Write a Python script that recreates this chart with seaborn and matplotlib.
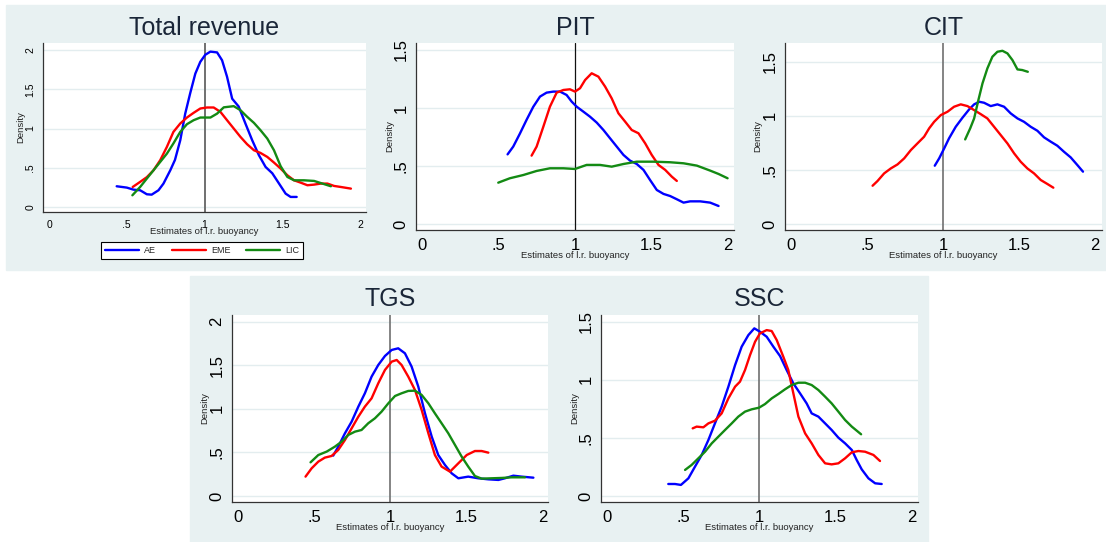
import matplotlib.pyplot as plt
import matplotlib.patches as mpatches
from matplotlib.ticker import FuncFormatter
import seaborn as sns
import pandas as pd

sns.set_style("white")
plt.rcParams['font.family'] = ['Liberation Sans', 'DejaVu Sans']

groups = ['AE', 'EME', 'LIC']
palette = {'AE': '#0000ff', 'EME': '#ff0000', 'LIC': '#138a13'}

# --- Total revenue ---
tr_ae_x = [0.435, 0.5, 0.543, 0.586, 0.629, 0.66, 0.704, 0.736, 0.78, 0.81, 0.844, 0.876, 0.908, 0.941, 0.973,
           1.005, 1.038, 1.081, 1.113, 1.145, 1.178, 1.22, 1.264, 1.307, 1.35, 1.393, 1.436, 1.479, 1.522, 1.554, 1.593]
tr_ae_y = [0.264, 0.247, 0.221, 0.213, 0.162, 0.157, 0.213, 0.298, 0.468, 0.6, 0.85, 1.19, 1.45, 1.70, 1.85,
           1.94, 1.98, 1.97, 1.87, 1.66, 1.38, 1.28, 1.06, 0.85, 0.66, 0.51, 0.43, 0.30, 0.17, 0.128, 0.128]
tr_eme_x = [0.538, 0.586, 0.629, 0.672, 0.715, 0.758, 0.80, 0.844, 0.887, 0.93, 0.973, 1.016, 1.059, 1.102, 1.145,
            1.188, 1.231, 1.274, 1.318, 1.36, 1.404, 1.447, 1.49, 1.533, 1.576, 1.619, 1.662, 1.705, 1.748, 1.791,
            1.834, 1.877, 1.942]
tr_eme_y = [0.255, 0.32, 0.38, 0.468, 0.596, 0.766, 0.957, 1.064, 1.14, 1.2, 1.255, 1.268, 1.268, 1.213, 1.106,
            1.0, 0.894, 0.8, 0.723, 0.689, 0.638, 0.566, 0.489, 0.404, 0.34, 0.31, 0.277, 0.285, 0.298, 0.298,
            0.268, 0.255, 0.234]
tr_lic_x = [0.536, 0.586, 0.629, 0.672, 0.715, 0.758, 0.80, 0.844, 0.887, 0.93, 0.973, 1.038, 1.081, 1.124, 1.188,
            1.231, 1.274, 1.318, 1.36, 1.404, 1.447, 1.49, 1.533, 1.576, 1.64, 1.705, 1.759, 1.813]
tr_lic_y = [0.149, 0.255, 0.362, 0.468, 0.574, 0.68, 0.81, 0.957, 1.055, 1.106, 1.14, 1.14, 1.19, 1.27, 1.285,
            1.234, 1.15, 1.072, 0.979, 0.872, 0.723, 0.519, 0.383, 0.34, 0.34, 0.332, 0.298, 0.264]

# --- PIT ---
pit_ae_x = [0.559, 0.596, 0.64, 0.683, 0.727, 0.771, 0.814, 0.858, 0.902, 0.945, 0.978, 1.011, 1.055, 1.098, 1.142,
            1.186, 1.229, 1.273, 1.317, 1.36, 1.404, 1.448, 1.491, 1.535, 1.579, 1.622, 1.666, 1.71, 1.753, 1.819,
            1.884, 1.939]
pit_ae_y = [0.60, 0.667, 0.78, 0.897, 1.01, 1.098, 1.132, 1.141, 1.141, 1.112, 1.055, 1.011, 0.968, 0.925, 0.874,
            0.81, 0.739, 0.667, 0.595, 0.546, 0.517, 0.466, 0.379, 0.293, 0.259, 0.241, 0.213, 0.184, 0.195, 0.195,
            0.184, 0.155]
pit_eme_x = [0.716, 0.749, 0.793, 0.836, 0.88, 0.924, 0.967, 1.0, 1.033, 1.066, 1.109, 1.153, 1.197, 1.24, 1.284,
             1.328, 1.371, 1.415, 1.459, 1.502, 1.546, 1.59, 1.633, 1.666]
pit_eme_y = [0.589, 0.667, 0.839, 1.011, 1.132, 1.155, 1.161, 1.141, 1.17, 1.241, 1.299, 1.27, 1.184, 1.083, 0.954,
             0.882, 0.81, 0.782, 0.695, 0.595, 0.509, 0.466, 0.408, 0.371]
pit_lic_x = [0.498, 0.574, 0.662, 0.749, 0.836, 0.924, 1.0, 1.076, 1.164, 1.24, 1.317, 1.404, 1.513, 1.622, 1.71,
             1.797, 1.884, 1.939, 1.998]
pit_lic_y = [0.356, 0.394, 0.422, 0.457, 0.48, 0.48, 0.474, 0.509, 0.509, 0.494, 0.517, 0.537, 0.537, 0.532, 0.523,
             0.503, 0.46, 0.431, 0.394]

# --- CIT ---
cit_ae_x = [0.946, 0.975, 1.008, 1.04, 1.084, 1.128, 1.172, 1.205, 1.238, 1.27, 1.314, 1.358, 1.402, 1.446, 1.49,
            1.533, 1.577, 1.621, 1.665, 1.709, 1.752, 1.796, 1.84, 1.884, 1.921]
cit_ae_y = [0.539, 0.607, 0.699, 0.792, 0.899, 0.982, 1.059, 1.106, 1.13, 1.121, 1.09, 1.106, 1.084, 1.022, 0.976,
            0.945, 0.899, 0.862, 0.801, 0.761, 0.724, 0.668, 0.616, 0.545, 0.484]
cit_eme_x = [0.537, 0.569, 0.613, 0.657, 0.701, 0.745, 0.789, 0.832, 0.876, 0.909, 0.942, 0.986, 1.03, 1.073, 1.117,
             1.161, 1.205, 1.248, 1.292, 1.336, 1.38, 1.424, 1.468, 1.511, 1.555, 1.599, 1.643, 1.687, 1.726]
cit_eme_y = [0.354, 0.397, 0.468, 0.514, 0.551, 0.607, 0.684, 0.745, 0.807, 0.884, 0.945, 1.007, 1.038, 1.084, 1.106,
             1.09, 1.053, 1.016, 0.976, 0.899, 0.822, 0.745, 0.653, 0.576, 0.514, 0.468, 0.407, 0.37, 0.336]
cit_lic_x = [1.146, 1.179, 1.205, 1.233, 1.26, 1.292, 1.325, 1.358, 1.391, 1.424, 1.457, 1.49, 1.522, 1.558]
cit_lic_y = [0.782, 0.884, 0.976, 1.146, 1.3, 1.438, 1.546, 1.592, 1.601, 1.577, 1.515, 1.429, 1.423, 1.407]

# --- TGS ---
tgs_ae_x = [0.624, 0.657, 0.701, 0.745, 0.789, 0.832, 0.876, 0.92, 0.964, 1.008, 1.051, 1.095, 1.139, 1.183, 1.227,
            1.271, 1.314, 1.358, 1.402, 1.446, 1.511, 1.577, 1.643, 1.709, 1.752, 1.807, 1.862, 1.939]
tgs_ae_y = [0.463, 0.566, 0.719, 0.853, 1.025, 1.178, 1.369, 1.503, 1.606, 1.675, 1.694, 1.637, 1.484, 1.254, 0.948,
            0.681, 0.47, 0.356, 0.26, 0.203, 0.222, 0.203, 0.191, 0.184, 0.203, 0.233, 0.222, 0.21]
tgs_eme_x = [0.442, 0.482, 0.526, 0.569, 0.613, 0.657, 0.701, 0.745, 0.789, 0.832, 0.876, 0.92, 0.964, 1.008, 1.041,
             1.073, 1.117, 1.161, 1.205, 1.249, 1.292, 1.336, 1.391, 1.446, 1.501, 1.555, 1.599, 1.643]
tgs_eme_y = [0.222, 0.317, 0.394, 0.44, 0.459, 0.528, 0.642, 0.776, 0.91, 1.025, 1.12, 1.293, 1.446, 1.541, 1.56,
             1.503, 1.369, 1.216, 0.987, 0.719, 0.47, 0.337, 0.279, 0.375, 0.47, 0.516, 0.516, 0.497]
tgs_lic_x = [0.475, 0.526, 0.581, 0.635, 0.679, 0.723, 0.767, 0.81, 0.854, 0.898, 0.942, 0.986, 1.03, 1.073, 1.117,
             1.161, 1.205, 1.249, 1.292, 1.336, 1.38, 1.424, 1.468, 1.511, 1.555, 1.599, 1.665, 1.731, 1.796, 1.884]
tgs_lic_y = [0.386, 0.47, 0.509, 0.566, 0.623, 0.7, 0.738, 0.757, 0.834, 0.891, 0.968, 1.063, 1.147, 1.178, 1.205,
             1.208, 1.159, 1.063, 0.948, 0.834, 0.719, 0.585, 0.451, 0.337, 0.229, 0.199, 0.203, 0.207, 0.214, 0.214]

# --- SSC ---
ssc_ae_x = [0.404, 0.448, 0.487, 0.536, 0.579, 0.623, 0.667, 0.71, 0.754, 0.798, 0.842, 0.885, 0.929, 0.968, 1.005,
            1.049, 1.093, 1.137, 1.18, 1.224, 1.268, 1.311, 1.344, 1.388, 1.432, 1.475, 1.519, 1.563, 1.607, 1.639,
            1.672, 1.716, 1.76, 1.803]
ssc_ae_y = [0.103, 0.103, 0.095, 0.152, 0.252, 0.353, 0.482, 0.625, 0.769, 0.941, 1.127, 1.285, 1.385, 1.443, 1.414,
            1.371, 1.285, 1.204, 1.084, 0.969, 0.883, 0.797, 0.711, 0.683, 0.625, 0.568, 0.502, 0.453, 0.396, 0.31,
            0.229, 0.152, 0.109, 0.103]
ssc_eme_x = [0.564, 0.59, 0.634, 0.667, 0.71, 0.754, 0.798, 0.842, 0.874, 0.907, 0.94, 0.973, 1.005, 1.049, 1.082,
             1.115, 1.158, 1.191, 1.224, 1.257, 1.301, 1.344, 1.388, 1.432, 1.475, 1.519, 1.563, 1.607, 1.65, 1.694,
             1.749, 1.792]
ssc_eme_y = [0.582, 0.597, 0.591, 0.625, 0.648, 0.711, 0.84, 0.941, 0.984, 1.084, 1.213, 1.328, 1.4, 1.428, 1.42,
             1.342, 1.199, 1.084, 0.883, 0.683, 0.539, 0.453, 0.353, 0.281, 0.272, 0.281, 0.324, 0.376, 0.387, 0.381,
             0.353, 0.301]
ssc_lic_x = [0.514, 0.557, 0.601, 0.645, 0.689, 0.732, 0.776, 0.82, 0.863, 0.907, 0.951, 0.999, 1.038, 1.082, 1.126,
             1.169, 1.213, 1.257, 1.301, 1.344, 1.388, 1.432, 1.475, 1.519, 1.563, 1.607, 1.668]
ssc_lic_y = [0.224, 0.267, 0.324, 0.381, 0.453, 0.51, 0.568, 0.625, 0.683, 0.726, 0.746, 0.76, 0.791, 0.84, 0.878,
             0.918, 0.955, 0.975, 0.975, 0.955, 0.912, 0.855, 0.797, 0.726, 0.654, 0.597, 0.531]

x_ticks = [0, 0.5, 1, 1.5, 2]


def build_frame(series):
    rows = []
    for g, (xs, ys) in zip(groups, series):
        for x, y in zip(xs, ys):
            rows.append({'x': x, 'y': y, 'group': g})
    return pd.DataFrame(rows)


def stata_fmt(v, _):
    s = f'{v:g}'
    if s.startswith('0.'):
        s = s[1:]
    return s


W, H = 1106, 542
fig = plt.figure(figsize=(W / 100, H / 100), dpi=100)
fig.patch.set_facecolor('white')

# light graph-region backgrounds (pixel boxes)
bg = '#e8f1f2'
fig.patches.append(mpatches.Rectangle((6 / W, (H - 270) / H), (W - 6) / W, 265 / H,
                                      transform=fig.transFigure, color=bg, zorder=0))
fig.patches.append(mpatches.Rectangle((190 / W, 0), (928 - 190) / W, (H - 276) / H,
                                      transform=fig.transFigure, color=bg, zorder=0))

panels = [
    dict(title='Total revenue', box=(43, 43, 366, 212), xlim=(-0.039, 2.039), ylim=(-0.064, 2.09),
         yticks=[0, 0.5, 1, 1.5, 2], tfs=7.5, vcol='#707070', vlw=1.4,
         series=[(tr_ae_x, tr_ae_y), (tr_eme_x, tr_eme_y), (tr_lic_x, tr_lic_y)], xl=-0.118, yl=-0.068),
    dict(title='PIT', box=(416, 43, 734, 230), xlim=(-0.04, 2.04), ylim=(-0.052, 1.56),
         yticks=[0, 0.5, 1, 1.5], tfs=12, vcol='#111111', vlw=0.9,
         series=[(pit_ae_x, pit_ae_y), (pit_eme_x, pit_eme_y), (pit_lic_x, pit_lic_y)], xl=-0.134, yl=-0.082),
    dict(title='CIT', box=(785, 43, 1102, 230), xlim=(-0.039, 2.046), ylim=(-0.055, 1.673),
         yticks=[0, 0.5, 1, 1.5], tfs=12, vcol='#707070', vlw=1.2,
         series=[(cit_ae_x, cit_ae_y), (cit_eme_x, cit_eme_y), (cit_lic_x, cit_lic_y)], xl=-0.134, yl=-0.085),
    dict(title='TGS', box=(232, 315, 548, 502), xlim=(-0.041, 2.035), ylim=(-0.069, 2.076),
         yticks=[0, 0.5, 1, 1.5, 2], tfs=12, vcol='#707070', vlw=1.2,
         series=[(tgs_ae_x, tgs_ae_y), (tgs_eme_x, tgs_eme_y), (tgs_lic_x, tgs_lic_y)], xl=-0.134, yl=-0.085),
    dict(title='SSC', box=(601, 315, 918, 502), xlim=(-0.037, 2.041), ylim=(-0.052, 1.558),
         yticks=[0, 0.5, 1, 1.5], tfs=12, vcol='#707070', vlw=1.2,
         series=[(ssc_ae_x, ssc_ae_y), (ssc_eme_x, ssc_eme_y), (ssc_lic_x, ssc_lic_y)], xl=-0.134, yl=-0.082),
]

for i, p in enumerate(panels):
    l, t, r, b = p['box']
    ax = fig.add_axes([l / W, (H - b) / H, (r - l) / W, (b - t) / H])
    ax.set_facecolor('white')
    ax.set_zorder(2)

    for yt in p['yticks']:
        ax.axhline(yt, color='#e3edef', lw=1.0, zorder=1)
    ax.axvline(1, color=p['vcol'], lw=p['vlw'], zorder=2)

    df = build_frame(p['series'])
    sns.lineplot(data=df, x='x', y='y', hue='group', hue_order=groups, palette=palette,
                 sort=False, estimator=None, lw=1.7, ax=ax, legend=(i == 0), zorder=3)

    ax.set_xlim(*p['xlim'])
    ax.set_ylim(*p['ylim'])
    ax.set_xticks(x_ticks)
    ax.set_yticks(p['yticks'])
    ax.xaxis.set_major_formatter(FuncFormatter(stata_fmt))
    ax.yaxis.set_major_formatter(FuncFormatter(stata_fmt))
    ax.tick_params(axis='both', direction='out', length=3, width=0.8, color='#333333',
                   labelsize=p['tfs'], labelcolor='black', pad=2.5)
    ax.tick_params(axis='y', labelrotation=90)
    for lab in ax.get_yticklabels():
        lab.set_va('center')

    for s in ['top', 'right']:
        ax.spines[s].set_visible(False)
    for s in ['left', 'bottom']:
        ax.spines[s].set_color('#333333')
        ax.spines[s].set_linewidth(0.9)

    ax.set_xlabel('Estimates of l.r. buoyancy', fontsize=6.8, color='#222222')
    ax.set_ylabel('Density', fontsize=6.8, color='#222222')
    ax.xaxis.set_label_coords(0.5, p['xl'])
    ax.yaxis.set_label_coords(p['yl'], 0.5)
    ax.xaxis.label.set_va('center')
    ax.yaxis.label.set_va('center')

    title_y = 28 if t < 100 else 299
    fig.text((l + r) / 2 / W, (H - title_y) / H, p['title'], ha='center', va='center',
             fontsize=18, color='#1a2638')

    if i == 0:
        leg = ax.legend(loc='center', bbox_to_anchor=(0.492, -0.228), ncol=3, fontsize=6.5,
                        frameon=True, fancybox=False, framealpha=1, edgecolor='black',
                        handlelength=3.8, handletextpad=0.55, columnspacing=1.7, borderpad=0.45)
        leg.get_frame().set_linewidth(0.8)
        for line in leg.get_lines():
            line.set_linewidth(1.7)

fig.savefig('out.png', dpi=100, facecolor='white')
